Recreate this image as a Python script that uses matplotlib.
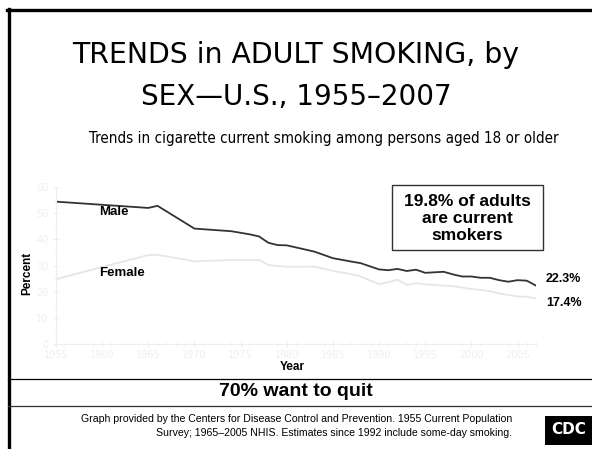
import matplotlib.pyplot as plt
import matplotlib.patches as patches
from matplotlib.lines import Line2D

# data (percent of adults who currently smoke)
years = [1955, 1965, 1966, 1970, 1974, 1976, 1977, 1978, 1979, 1980, 1983, 1985,
         1987, 1988, 1990, 1991, 1992, 1993, 1994, 1995, 1997, 1998, 1999, 2000,
         2001, 2002, 2003, 2004, 2005, 2006, 2007]
male = [54.4, 52.0, 52.8, 44.1, 43.1, 41.9, 41.1, 38.7, 37.8, 37.7, 35.3, 32.8,
        31.5, 30.9, 28.5, 28.2, 28.7, 27.9, 28.4, 27.2, 27.6, 26.6, 25.8, 25.8,
        25.3, 25.3, 24.4, 23.8, 24.4, 24.2, 22.3]
female = [24.8, 34.0, 34.1, 31.6, 32.1, 32.0, 32.1, 30.2, 29.8, 29.5, 29.6, 27.9,
          26.7, 25.8, 22.9, 23.6, 24.6, 22.6, 23.2, 22.8, 22.3, 22.1, 21.6, 21.0,
          20.7, 20.2, 19.3, 18.7, 18.2, 18.0, 17.4]
end_labels = ['22.3%', '17.4%']
x_ticks = [1955, 1960, 1965, 1970, 1975, 1980, 1985, 1990, 1995, 2000, 2005]
y_ticks = [0, 10, 20, 30, 40, 50, 60]

W, H = 592, 449
fig = plt.figure(figsize=(W / 100, H / 100), dpi=100)
fig.patch.set_facecolor('white')

def fx(px):
    return px / W

def fy(py):
    return 1 - py / H

# slide frame
fig.add_artist(Line2D([fx(8.5), fx(8.5)], [fy(9), 0], color='black', lw=2.4))
fig.add_artist(Line2D([fx(7.3), 1], [fy(9.5), fy(9.5)], color='black', lw=2.4))
fig.add_artist(Line2D([fx(8), 1], [fy(379), fy(379)], color='black', lw=0.9))
fig.add_artist(Line2D([fx(8), 1], [fy(406), fy(406)], color='#333333', lw=0.9))

# title
fig.text(0.5, fy(55), 'TRENDS in ADULT SMOKING, by', ha='center', va='center',
         fontsize=20.4, family='DejaVu Sans')
fig.text(0.5, fy(97), 'SEX\u2014U.S., 1955\u20132007', ha='center', va='center',
         fontsize=20, family='DejaVu Sans')
fig.text(fx(324), fy(138), 'Trends in cigarette current smoking among persons aged 18 or older',
         ha='center', va='center', fontsize=10.9, family='DejaVu Sans', stretch='condensed')

# plot area
ax = fig.add_axes([fx(56), fy(344), fx(536) - fx(56), fy(187) - fy(344)])
ax.plot(years, male, color='#333333', lw=1.3)
ax.plot(years, female, color='#e6e6e6', lw=1.3)
ax.set_xlim(1955, 2007)
ax.set_ylim(0, 60)
ax.set_xticks(x_ticks)
ax.set_xticks(range(1955, 2008), minor=True)
ax.set_yticks(y_ticks)
ax.set_yticks(range(0, 61, 5), minor=True)
for s in ['top', 'right']:
    ax.spines[s].set_visible(False)
for s in ['left', 'bottom']:
    ax.spines[s].set_color('#eeeeee')
ax.tick_params(which='both', colors='#eeeeee', labelcolor='#efefef', direction='inout',
               labelsize=7)
ax.tick_params(which='major', length=4)
ax.tick_params(which='minor', length=3)
ax.tick_params(axis='x', which='major', pad=2)
ax.set_ylabel('Percent', fontsize=8.5, fontweight='bold', family='Liberation Sans')
ax.set_xlabel('Year', fontsize=8.5, fontweight='bold', family='Liberation Sans')
ax.yaxis.set_label_coords((33 - 56) / 480, 0.45)
ax.xaxis.set_label_coords((292 - 56) / 480, -(361 - 344) / 157)

ax.text(1961.3, 50.4, 'Male', fontsize=9.5, fontweight='bold', family='Liberation Sans',
        ha='center', va='center')
ax.text(1962.2, 27.2, 'Female', fontsize=9.5, fontweight='bold', family='Liberation Sans',
        ha='center', va='center')
ax.text(2010, male[-1] + 2.5, end_labels[0], fontsize=9, fontweight='bold',
        family='Liberation Sans', ha='center', va='center', clip_on=False)
ax.text(2010, female[-1] - 1.6, end_labels[1], fontsize=9, fontweight='bold',
        family='Liberation Sans', ha='center', va='center', clip_on=False)

# call-out box
fig.add_artist(patches.Rectangle((fx(392), fy(250)), fx(543) - fx(392), fy(185) - fy(250),
                                 fill=False, edgecolor='#333333', lw=1.0))
fig.text(fx(467.5), fy(218.5), '19.8% of adults\nare current\nsmokers', ha='center',
         va='center', fontsize=12.5, fontweight='bold', family='Liberation Sans',
         linespacing=1.2)

fig.text(0.5, fy(392), '70% want to quit', ha='center', va='center', fontsize=14,
         fontweight='bold', family='Liberation Sans')

fig.text(fx(512), fy(426), 'Graph provided by the Centers for Disease Control and Prevention. '
         '1955 Current Population\nSurvey; 1965\u20132005 NHIS. Estimates since 1992 include '
         'some-day smoking.', ha='right', va='center', fontsize=7.6,
         family='Liberation Sans', linespacing=1.6)

# CDC logo (rough)
fig.add_artist(patches.Rectangle((fx(545), fy(445)), 1 - fx(545), fy(416) - fy(445),
                                 facecolor='black', edgecolor='none'))
fig.text(fx(569), fy(430), 'CDC', ha='center', va='center', fontsize=11,
         fontweight='bold', color='white', family='DejaVu Sans')

fig.savefig('out.png', dpi=100)
